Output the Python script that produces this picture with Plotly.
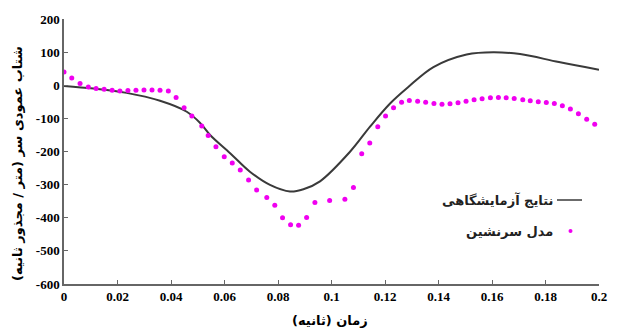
import plotly.graph_objects as go

# Experimental results (solid line)
exp_t = [0.0, 0.011, 0.0234, 0.0359, 0.0459, 0.0508, 0.0546, 0.0621, 0.0695, 0.077,
         0.0845, 0.0895, 0.0957, 0.107, 0.1144, 0.1219, 0.1286, 0.1381, 0.1505,
         0.1605, 0.1705, 0.185, 0.2]
exp_a = [-2, -10, -23, -47, -80, -113, -150, -205, -261, -301,
         -321, -314, -290, -200, -125, -55, -6, 55, 93,
         100, 94, 70, 47]

# Occupant model (dots)
mod_t = [0.0, 0.0029, 0.006, 0.0091, 0.012, 0.015, 0.018, 0.0209, 0.0239, 0.0269,
         0.0299, 0.0329, 0.0359, 0.039, 0.0419, 0.0449, 0.0478, 0.0515, 0.0539, 0.0568,
         0.0599, 0.0629, 0.0659, 0.069, 0.072, 0.0758, 0.0788, 0.0817, 0.0847, 0.0877,
         0.0907, 0.0938, 0.0993, 0.105, 0.1082, 0.1113, 0.1143, 0.1173, 0.1202, 0.1232,
         0.1262, 0.1291, 0.1322, 0.1352, 0.1383, 0.1413, 0.1443, 0.1473, 0.1503, 0.1533,
         0.1563, 0.1594, 0.1624, 0.1653, 0.1683, 0.1715, 0.1743, 0.1773, 0.1803, 0.1833,
         0.1863, 0.1893, 0.1923, 0.1954, 0.1984]
mod_a = [40, 22, 5, -5, -10, -12, -15, -17, -16, -15,
         -14, -14, -15, -17, -37, -68, -93, -123, -152, -186,
         -216, -235, -256, -286, -316, -339, -362, -400, -421, -423,
         -399, -354, -348, -344, -309, -207, -174, -125, -93, -68,
         -51, -46, -48, -51, -55, -57, -56, -53, -48, -44,
         -41, -38, -37, -38, -40, -44, -47, -50, -52, -55,
         -62, -72, -86, -103, -118]

x_ticks = [0, 0.02, 0.04, 0.06, 0.08, 0.1, 0.12, 0.14, 0.16, 0.18, 0.2]
x_tick_labels = ["0", "0.02", "0.04", "0.06", "0.08", "0.1", "0.12", "0.14", "0.16", "0.18", "0.2"]
y_ticks = [200, 100, 0, -100, -200, -300, -400, -500, -600]
y_tick_labels = ["200", "100", "0", "-100", "-200", "-300", "-400", "-500", "-600"]

legend_names = ["نتایج آزمایشگاهی", "مدل سرنشین"]
x_title = "زمان (ثانیه)"
y_title = "شتاب عمودی سر (متر / مجذور ثانیه)"

RLM = "\u200F"
line_color = "#3a3a3a"
dot_color = "#f000f0"
axis_color = "#666666"

# plot-area geometry in pixels (used only to place the hand-made legend/titles)
L, R, T, B = 64, 599, 19, 284
W, H = R - L, B - T


def px(x):
    return (x - L) / W


def py(y):
    return (B - y) / H


fig = go.Figure()
fig.add_trace(go.Scatter(x=exp_t, y=exp_a, mode="lines", name=legend_names[0],
                         line=dict(color=line_color, width=2, shape="spline", smoothing=1.0),
                         showlegend=False))
fig.add_trace(go.Scatter(x=mod_t, y=mod_a, mode="markers", name=legend_names[1],
                         marker=dict(color=dot_color, size=5),
                         showlegend=False))

tick_font = dict(family="Liberation Serif", size=13, color="black", weight="bold")
title_font = dict(family="DejaVu Sans", size=13, color="black", weight="bold")

fig.update_layout(
    width=618, height=332,
    margin=dict(l=L, r=618 - R, t=T, b=332 - B),
    plot_bgcolor="white", paper_bgcolor="white",
    xaxis=dict(range=[0, 0.2], tickvals=x_ticks, ticktext=x_tick_labels,
               showgrid=False, zeroline=False, showline=True, linecolor=axis_color, linewidth=1.5,
               ticks="inside", ticklen=4, tickcolor=axis_color, tickwidth=1,
               tickfont=tick_font),
    yaxis=dict(range=[-600, 200], tickvals=y_ticks, ticktext=y_tick_labels,
               showgrid=False, zeroline=False, showline=True, linecolor=axis_color, linewidth=1.5,
               ticks="inside", ticklen=4, tickcolor=axis_color, tickwidth=1,
               tickfont=tick_font),
)

# Axis titles
fig.add_annotation(text=RLM + x_title + RLM, xref="paper", yref="paper",
                   x=px(330), y=py(320), xanchor="center", yanchor="middle",
                   showarrow=False, font=title_font)
fig.add_annotation(text=RLM + y_title + RLM, xref="paper", yref="paper",
                   x=px(17), y=py(164), xanchor="center", yanchor="middle",
                   textangle=-90, showarrow=False, font=title_font)

# Legend drawn right-to-left (symbol on the right)
leg_font = dict(family="DejaVu Sans", size=13, color="#222222", weight="bold")
fig.add_shape(type="line", xref="paper", yref="paper",
              x0=px(557), x1=px(582), y0=py(200), y1=py(200),
              line=dict(color=line_color, width=1.5))
fig.add_shape(type="circle", xref="paper", yref="paper",
              x0=px(568.5), x1=px(572.5), y0=py(233), y1=py(229),
              fillcolor=dot_color, line=dict(width=0))
fig.add_annotation(text=RLM + legend_names[0], xref="paper", yref="paper",
                   x=px(555), y=py(200), xanchor="right", yanchor="middle",
                   showarrow=False, font=leg_font)
fig.add_annotation(text=RLM + legend_names[1], xref="paper", yref="paper",
                   x=px(555), y=py(231), xanchor="right", yanchor="middle",
                   showarrow=False, font=leg_font)

fig.write_html("out.html")
